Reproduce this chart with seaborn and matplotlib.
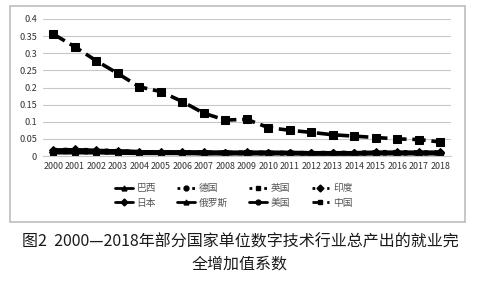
import matplotlib
matplotlib.use("Agg")
import matplotlib.pyplot as plt
import seaborn as sns
import numpy as np
import pandas as pd
from matplotlib.patches import Rectangle
from matplotlib.lines import Line2D

years = [str(y) for y in range(2000, 2019)]
brazil = [0.016, 0.016, 0.015, 0.014, 0.012, 0.011, 0.011, 0.010, 0.010, 0.010, 0.010, 0.009, 0.009, 0.009, 0.009, 0.010, 0.010, 0.010, 0.010]
germany = [0.012, 0.012, 0.011, 0.011, 0.010, 0.009, 0.009, 0.009, 0.008, 0.008, 0.008, 0.008, 0.007, 0.007, 0.007, 0.008, 0.008, 0.008, 0.008]
uk = [0.011, 0.011, 0.010, 0.010, 0.009, 0.009, 0.008, 0.008, 0.008, 0.008, 0.007, 0.007, 0.007, 0.007, 0.007, 0.007, 0.007, 0.007, 0.007]
india = [0.018, 0.019, 0.017, 0.015, 0.012, 0.011, 0.012, 0.011, 0.010, 0.011, 0.010, 0.010, 0.009, 0.010, 0.010, 0.012, 0.012, 0.011, 0.011]
japan = [0.013, 0.013, 0.012, 0.012, 0.010, 0.010, 0.010, 0.009, 0.009, 0.009, 0.009, 0.009, 0.008, 0.008, 0.008, 0.009, 0.009, 0.009, 0.009]
russia = [0.017, 0.018, 0.016, 0.014, 0.012, 0.011, 0.011, 0.011, 0.010, 0.010, 0.010, 0.010, 0.009, 0.009, 0.009, 0.010, 0.010, 0.010, 0.010]
usa = [0.010, 0.010, 0.010, 0.009, 0.008, 0.008, 0.008, 0.007, 0.007, 0.007, 0.007, 0.007, 0.006, 0.006, 0.006, 0.007, 0.007, 0.007, 0.007]
china = [0.356, 0.319, 0.278, 0.241, 0.202, 0.188, 0.159, 0.125, 0.105, 0.107, 0.083, 0.075, 0.069, 0.062, 0.058, 0.054, 0.050, 0.048, 0.041]
yticks = [0, 0.05, 0.1, 0.15, 0.2, 0.25, 0.3, 0.35, 0.4]
ytick_labels = ["0", "0.05", "0.1", "0.15", "0.2", "0.25", "0.3", "0.35", "0.4"]
caption = "图2  2000—2018年部分国家单位数字技术行业总产出的就业完\n全增加值系数"

series = [
    ("巴西", brazil, "-", "^"),
    ("德国", germany, ":", "o"),
    ("英国", uk, ":", "s"),
    ("印度", india, ":", "D"),
    ("日本", japan, "-", "D"),
    ("俄罗斯", russia, "-", "^"),
    ("美国", usa, "-", "o"),
    ("中国", china, "--", "s"),
]

sns.set_theme(style="white")
plt.rcParams['font.family'] = ['Noto Sans CJK SC', 'DejaVu Sans']

fig = plt.figure(figsize=(4.8, 2.81), dpi=100)
ax = fig.add_axes([42.5/480, 1 - 156/281, (451 - 42.5)/480, (156 - 19)/281])

x = np.arange(len(years))
for name, vals, ls, mk in series:
    df = pd.DataFrame({"x": x, "y": vals})
    lw = 2.6 if name == "中国" else 2.8
    ms = 5.5 if name == "中国" else 4.5
    sns.lineplot(data=df, x="x", y="y", ax=ax, color="black", linestyle=ls,
                 linewidth=lw, marker=mk, markersize=ms, markeredgecolor="black",
                 legend=False)

ax.set_xlim(-0.5, len(years) - 0.5)
ax.set_ylim(0, 0.4)
ax.set_yticks(yticks)
ax.set_yticklabels(ytick_labels, fontsize=6.6, color="#333333")
ax.set_xticks(x)
ax.set_xticklabels(years, fontsize=6.4, color="#333333")
ax.set_xlabel("")
ax.set_ylabel("")
ax.tick_params(axis="both", length=0, pad=4)
ax.yaxis.grid(True, color="#c8c8c8", linewidth=0.8)
for s in ["top", "right", "left"]:
    ax.spines[s].set_visible(False)
ax.spines["bottom"].set_color("#c8c8c8")
ax.spines["bottom"].set_linewidth(0.8)

handles = []
for name, vals, ls, mk in series:
    handles.append(Line2D([], [], color="black", linestyle=ls, linewidth=2.0,
                          marker=mk, markersize=3.5))
names = [s[0] for s in series]
order = [0, 4, 1, 5, 2, 6, 3, 7]
fig.legend(handles=[handles[i] for i in order], labels=[names[i] for i in order],
           ncol=4, loc="center", bbox_to_anchor=(0.487, 1 - 195.5/281), frameon=False,
           fontsize=7, handlelength=1.8, columnspacing=2.2, handletextpad=0.4,
           labelspacing=0.45, labelcolor="#555555")

fig.patches.append(Rectangle((10/480, 1 - 222/281), 455/480, (222 - 6)/281,
                             transform=fig.transFigure, fill=False,
                             edgecolor="#bdbdbd", linewidth=1.2))

fig.text(0.5, 1 - 253/281, caption, ha="center", va="center", fontsize=11.5,
         fontweight="medium", color="#1a1a1a", linespacing=1.35)

fig.savefig("out.png", dpi=100)
